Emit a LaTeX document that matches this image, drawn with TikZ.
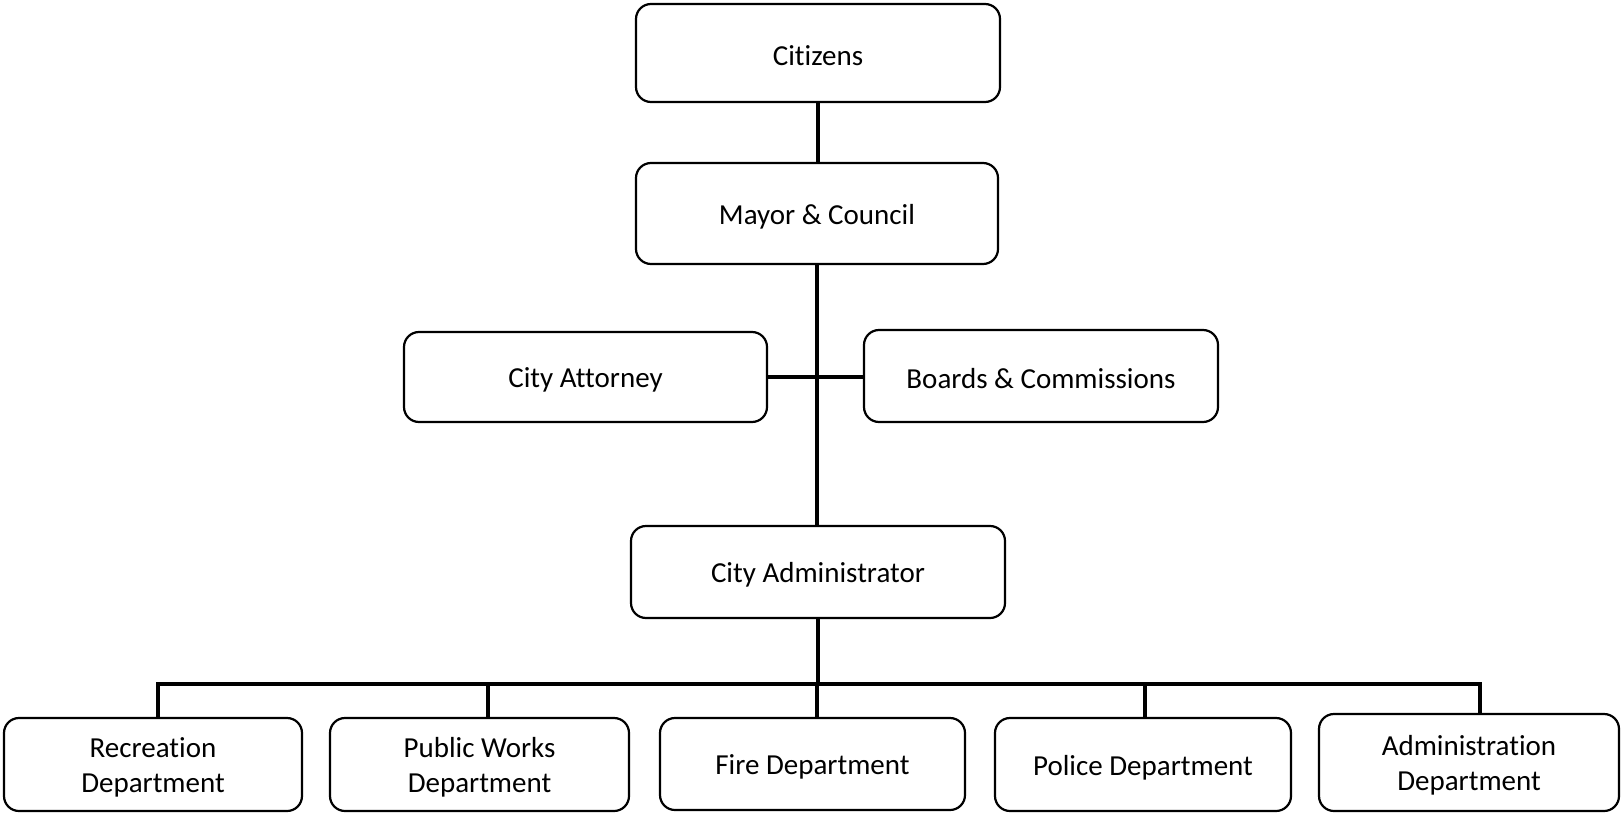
\documentclass[tikz,border=0pt]{standalone}
\usepackage{fontspec}
\setmainfont[Ligatures=NoCommon]{Carlito}
% lower a line of text a little without changing its box
\newcommand{\dn}[1]{\raisebox{-3pt}[\height][\depth]{#1}}
\begin{document}
\begin{tikzpicture}[x=1pt,y=-1pt,
  orgbox/.style={draw=black, line width=2.2pt, rounded corners=15pt,
    inner sep=0pt, outer sep=0pt, align=center,
    font=\fontsize{29}{35}\selectfont},
  link/.style={draw=black, line width=3.6pt}]
\useasboundingbox (0,0) rectangle (1621,813);
% top of the chart
\node[orgbox, minimum width=364pt, minimum height=98pt]  (cit)  at (818,53)    {\dn{Citizens}};
\node[orgbox, minimum width=362pt, minimum height=101pt] (may)  at (817,213.5) {\dn{Mayor \& Council}};
\node[orgbox, minimum width=363pt, minimum height=90pt]  (att)  at (585.5,377) {\dn{City Attorney}};
\node[orgbox, minimum width=354pt, minimum height=92pt]  (brd)  at (1041,376)  {\dn{Boards \& Commissions}};
\node[orgbox, minimum width=374pt, minimum height=92pt]  (adm)  at (818,572)   {\dn{City Administrator}};
% departments
\node[orgbox, minimum width=298pt, minimum height=93pt]  (rec)  at (153,764.5)   {\dn{Recreation}\\\dn{Department}};
\node[orgbox, minimum width=299pt, minimum height=93pt]  (pw)   at (479.5,764.5) {\dn{Public Works}\\\dn{Department}};
\node[orgbox, minimum width=305pt, minimum height=92pt]  (fire) at (812.5,764)   {\dn{Fire Department}};
\node[orgbox, minimum width=296pt, minimum height=93pt]  (pol)  at (1143,764.5)  {\dn{Police Department}};
\node[orgbox, minimum width=300pt, minimum height=97pt]  (admd) at (1469,762.5)  {\dn{Administration}\\\dn{Department}};
% bus and drop points
\coordinate (bus) at (817,684);
\coordinate (d1) at (158,684);
\coordinate (d2) at (488,684);
\coordinate (d3) at (817,684);
\coordinate (d4) at (1145,684);
\coordinate (d5) at (1480,684);
% connectors
\draw[link] (cit.south) -- (cit.south |- may.north);
\draw[link] (may.south) -- (may.south |- adm.north);
\draw[link] (att.east) -- (att.east -| brd.west);
\draw[link] (adm.south) -- (adm.south |- bus);
\draw[link, line cap=rect] (d1) -- (d5);
\draw[link] (d1) -- (d1 |- rec.north);
\draw[link] (d2) -- (d2 |- pw.north);
\draw[link] (d3) -- (d3 |- fire.north);
\draw[link] (d4) -- (d4 |- pol.north);
\draw[link] (d5) -- (d5 |- admd.north);
\end{tikzpicture}
\end{document}
